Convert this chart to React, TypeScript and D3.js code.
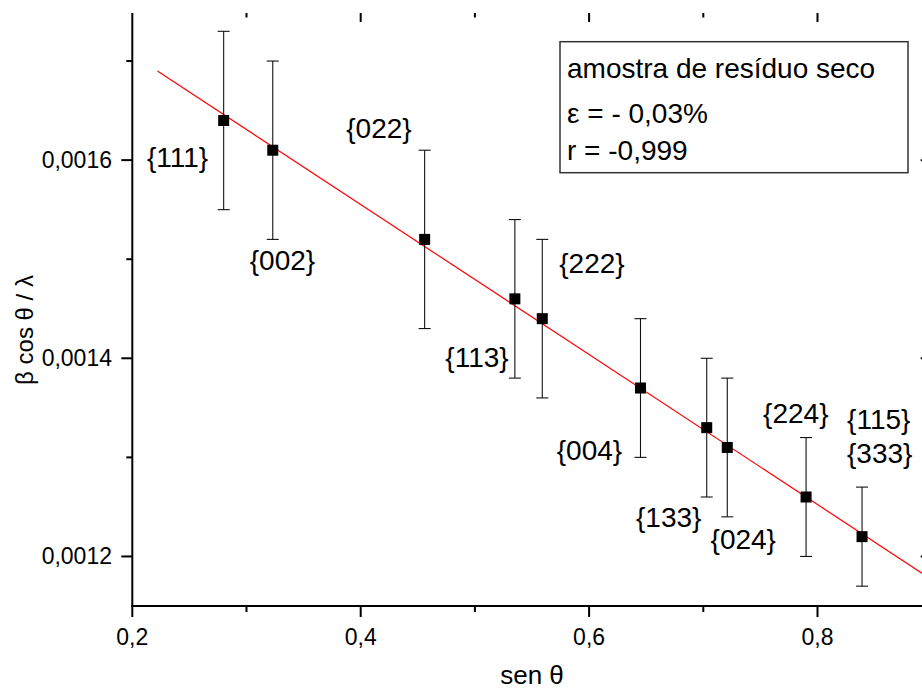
import React, { useEffect } from "react";
import * as d3 from "d3";

// ---- data ----
const senTheta = [0.280, 0.323, 0.456, 0.535, 0.559, 0.645, 0.703, 0.721, 0.790, 0.839];
const betaCos = [0.00164, 0.00161, 0.00152, 0.00146, 0.00144, 0.00137, 0.00133, 0.00131, 0.00126, 0.00122];
const errors = [0.00009, 0.00009, 0.00009, 0.00008, 0.00008, 0.00007, 0.00007, 0.00007, 0.00006, 0.00005];

const fitSlope = -0.000757;
const fitIntercept = 0.001858;
const fitRange = [0.222, 0.9];

const xMajorTicks = [0.2, 0.4, 0.6, 0.8];
const xMinorTicks = [0.3, 0.5, 0.7];
const yMajorTicks = [0.0012, 0.0014, 0.0016];
const yMinorTicks = [0.0013, 0.0015, 0.0017];

const labelTexts = ["{111}", "{002}", "{022}", "{222}", "{113}", "{004}", "{133}", "{024}", "{224}", "{115}", "{333}"];
const labelX = [0.2396, 0.3315, 0.416, 0.6025, 0.5018, 0.6003, 0.6697, 0.735, 0.781, 0.8536, 0.8545];
const labelY = [0.001593, 0.001489, 0.001622, 0.001486, 0.001391, 0.001297, 0.00123, 0.001208, 0.001335, 0.001329, 0.001294];

const legendLines = ["amostra de resíduo seco", "ε = - 0,03%", "r = -0,999"];

const xTitle = "sen θ";
const yTitle = "β cos θ / λ";

const W = 922;
const H = 691;
const FONT = "'Liberation Sans', Arial, Helvetica, sans-serif";

const fmt = (v: number, digits: number) => v.toFixed(digits).replace(".", ",");

export default function App() {
  useEffect(() => {
    document.body.style.margin = "0";
  }, []);

  const x = d3.scaleLinear().domain([0.2, 0.9]).range([132.3, 931.7]);
  const y = d3.scaleLinear().domain([0.00115, 0.00175]).range([606, 11.5]);

  const left = x(0.2);
  const right = x(0.9);
  const bottom = y(0.00115);
  const topLine = 13;

  const fitLine = d3
    .line<number>()
    .x((d) => x(d))
    .y((d) => y(fitIntercept + fitSlope * d));

  const half = 5.5;
  const cap = 6;

  return (
    <svg
      width={W}
      height={H}
      style={{ position: "absolute", left: 0, top: 0, background: "#fff" }}
      fontFamily={FONT}
    >
      <rect x={0} y={0} width={W} height={H} fill="#fff" />
      {/* fit line */}
      <path d={fitLine(fitRange) || ""} stroke="#ff0000" strokeWidth={1.2} fill="none" />

      {/* error bars */}
      {senTheta.map((sx, i) => {
        const cx = x(sx);
        const y1 = y(betaCos[i] + errors[i]);
        const y2 = y(betaCos[i] - errors[i]);
        return (
          <g key={"e" + i} stroke="#111" strokeWidth={1.1}>
            <line x1={cx} x2={cx} y1={y1} y2={y2} />
            <line x1={cx - cap} x2={cx + cap} y1={y1} y2={y1} />
            <line x1={cx - cap} x2={cx + cap} y1={y2} y2={y2} />
          </g>
        );
      })}

      {/* markers */}
      {senTheta.map((sx, i) => (
        <rect
          key={"m" + i}
          x={x(sx) - half}
          y={y(betaCos[i]) - half}
          width={half * 2}
          height={half * 2}
          fill="#000"
        />
      ))}

      {/* point labels */}
      {labelTexts.map((t, i) => (
        <text
          key={"l" + i}
          x={x(labelX[i])}
          y={y(labelY[i])}
          textAnchor="middle"
          fontSize={28}
          fill="#000"
        >
          {t}
        </text>
      ))}

      {/* legend box */}
      <rect x={560} y={41.7} width={348} height={131} fill="#fff" stroke="#333" strokeWidth={1.5} />
      {legendLines.map((t, i) => (
        <text key={"g" + i} x={567} y={[78.3, 123.3, 160][i]} fontSize={28} fill="#000">
          {t}
        </text>
      ))}

      {/* left axis */}
      <line x1={left} x2={left} y1={topLine} y2={bottom + 1} stroke="#000" strokeWidth={2} />
      {yMajorTicks.map((t) => (
        <g key={"ly" + t}>
          <line x1={left - 11} x2={left} y1={y(t)} y2={y(t)} stroke="#000" strokeWidth={2} />
          <text x={112} y={y(t) + 8} textAnchor="end" fontSize={23} fill="#000">
            {fmt(t, 4)}
          </text>
        </g>
      ))}
      {yMinorTicks.map((t) => (
        <line key={"lm" + t} x1={left - 6} x2={left} y1={y(t)} y2={y(t)} stroke="#000" strokeWidth={2} />
      ))}

      {/* right axis ticks (inward) */}
      <line x1={right} x2={right} y1={topLine} y2={bottom} stroke="#000" strokeWidth={2} />
      {yMajorTicks.map((t) => (
        <line key={"ry" + t} x1={right - 11} x2={right} y1={y(t)} y2={y(t)} stroke="#000" strokeWidth={2} />
      ))}
      {yMinorTicks.map((t) => (
        <line key={"rm" + t} x1={right - 6} x2={right} y1={y(t)} y2={y(t)} stroke="#000" strokeWidth={2} />
      ))}

      {/* bottom axis */}
      <line x1={left - 1} x2={W} y1={bottom} y2={bottom} stroke="#000" strokeWidth={2} />
      {xMajorTicks.map((t) => (
        <g key={"bx" + t}>
          <line x1={x(t)} x2={x(t)} y1={bottom} y2={bottom + 11} stroke="#000" strokeWidth={2} />
          <text x={x(t)} y={645} textAnchor="middle" fontSize={23} fill="#000">
            {fmt(t, 1)}
          </text>
        </g>
      ))}
      {xMinorTicks.map((t) => (
        <line key={"bm" + t} x1={x(t)} x2={x(t)} y1={bottom} y2={bottom + 6} stroke="#000" strokeWidth={2} />
      ))}

      {/* top axis ticks (inward, no line) */}
      {xMajorTicks.filter((t) => t > 0.2).map((t) => (
        <line key={"tx" + t} x1={x(t)} x2={x(t)} y1={topLine} y2={topLine + 9} stroke="#000" strokeWidth={2} />
      ))}
      {xMinorTicks.map((t) => (
        <line key={"tm" + t} x1={x(t)} x2={x(t)} y1={topLine} y2={topLine + 4.5} stroke="#000" strokeWidth={2} />
      ))}

      {/* axis titles */}
      <text x={532} y={684} textAnchor="middle" fontSize={26} fill="#000">
        {xTitle}
      </text>
      <text
        transform={`translate(33, 330) rotate(-90)`}
        textAnchor="middle"
        fontSize={24}
        fill="#000"
      >
        {yTitle}
      </text>
    </svg>
  );
}
